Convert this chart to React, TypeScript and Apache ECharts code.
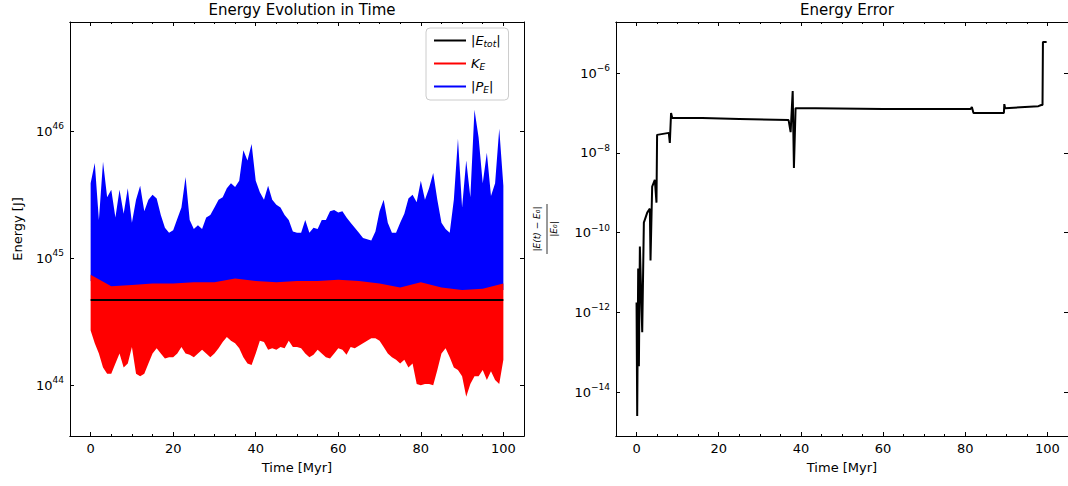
import React, { useEffect, useRef } from 'react'
import * as echarts from 'echarts'

// time grid (Myr) for the envelopes
const envTime = Array.from({ length: 101 }, (_, i) => i)

// log10 of the upper envelope of |P_E|
const blueTopLog = [
  45.59, 45.75, 45.3, 45.76, 45.48, 45.54, 45.32, 45.54, 45.35, 45.55, 45.28, 45.46, 45.57, 45.37, 45.46, 45.5, 45.47,
  45.34, 45.24, 45.2, 45.22, 45.31, 45.4, 45.64, 45.3, 45.23, 45.26, 45.23, 45.32, 45.34, 45.4, 45.46, 45.48, 45.55,
  45.59, 45.56, 45.61, 45.85, 45.77, 45.9, 45.61, 45.52, 45.46, 45.57, 45.46, 45.42, 45.4, 45.34, 45.3, 45.21,
  45.2, 45.2, 45.3, 45.2, 45.24, 45.23, 45.3, 45.3, 45.37, 45.38, 45.36, 45.37, 45.32, 45.28, 45.24, 45.2, 45.16,
  45.15, 45.14, 45.21, 45.37, 45.46, 45.28, 45.2, 45.2, 45.28, 45.35, 45.47, 45.5, 45.44, 45.61, 45.46, 45.55, 45.67,
  45.46, 45.28, 45.23, 45.2, 45.46, 45.94, 45.4, 45.77, 45.48, 46.17, 45.95, 45.59, 45.83, 45.49, 45.59, 46.02, 45.57
]

// log10 of the lower envelope of K_E
const redLowLog = [
  44.43, 44.33, 44.25, 44.14, 44.09, 44.09, 44.17, 44.25, 44.14, 44.17, 44.3, 44.09, 44.07, 44.09, 44.17, 44.25, 44.29,
  44.25, 44.21, 44.22, 44.22, 44.25, 44.3, 44.25, 44.24, 44.22, 44.25, 44.28, 44.25, 44.22, 44.25, 44.29, 44.34, 44.38,
  44.35, 44.33, 44.29, 44.22, 44.17, 44.16, 44.25, 44.35, 44.34, 44.28, 44.29, 44.28, 44.3, 44.29, 44.35, 44.3,
  44.3, 44.29, 44.25, 44.22, 44.24, 44.28, 44.25, 44.22, 44.21, 44.25, 44.29, 44.28, 44.24, 44.3, 44.29, 44.31, 44.33,
  44.35, 44.37, 44.37, 44.35, 44.3, 44.25, 44.22, 44.2, 44.17, 44.2, 44.14, 44.17, 44.01, 44.0, 44.01, 44.01, 44.0,
  44.12, 44.25, 44.29, 44.22, 44.14, 44.12, 44.07, 43.91, 44.01, 44.07, 44.07, 44.12, 44.04, 44.11, 44.04, 44.01, 44.2
]

// log10 of the upper envelope of K_E (also the lower edge of |P_E|)
const redTopTime = [0, 5, 10, 15, 20, 25, 30, 35, 40, 45, 50, 55, 60, 65, 70, 75, 80, 85, 90, 95, 100]
const redTopLog = [
  44.87, 44.78, 44.79, 44.8, 44.8, 44.81, 44.81, 44.84, 44.82, 44.81, 44.82, 44.82, 44.83, 44.82, 44.8, 44.77, 44.81,
  44.77, 44.75, 44.76, 44.8
]

// |E_tot|
const eTotTime = [0, 100]
const eTotLog = [44.67, 44.67]

// energy error, log10
const errTime = [
  0, 0.16, 0.4, 0.57, 0.81, 1.38, 1.78, 2.6, 3.24, 3.4, 3.8, 4.45, 4.85, 5.0, 7.85, 8.1, 8.4, 8.7, 16, 25, 37, 37.5, 38.0,
  38.3, 38.7, 43.6, 60, 81.3, 81.6, 82, 83.3, 89.4, 89.5, 89.7, 97.8, 98.5, 98.8, 98.9, 99.8
]
const errLog = [
  -11.75, -14.6, -10.9, -13.35, -10.35, -12.5, -9.75, -9.5, -9.4, -10.7, -8.85, -8.68, -9.25, -7.55, -7.5, -7.75, -7.0,
  -7.13, -7.13, -7.15, -7.18, -7.48, -6.45, -8.38, -6.88, -6.88, -6.9, -6.9, -6.85, -7.0, -7.0, -7.0, -6.78, -6.88,
  -6.83, -6.8, -6.8, -5.22, -5.22
]

const xMajor = [0, 20, 40, 60, 80, 100]
const xMinor = [-5, 5, 10, 15, 25, 30, 35, 45, 50, 55, 65, 70, 75, 85, 90, 95, 105]
const leftTicks = [44, 45, 46]
const rightTicks = [-14, -12, -10, -8, -6]

const FONT = 'DejaVu Sans'

const powLabel = (v: number) => `{b|10}{s|${v < 0 ? '−' + Math.abs(v) : v}}`
const powRich = {
  b: { fontSize: 13, fontFamily: FONT, color: '#000' },
  s: { fontSize: 9, fontFamily: FONT, color: '#000', padding: [0, 0, 10, 0] }
}

const spine = { show: true, onZero: false, lineStyle: { color: '#000', width: 1 } }

const xAxes = (grid: number) => {
  const base = {
    type: 'value',
    gridIndex: grid,
    min: -5,
    max: 105,
    axisLine: spine,
    splitLine: { show: false },
    offset: 0
  }
  return [
    {
      ...base,
      position: 'bottom',
      name: 'Time [Myr]',
      nameLocation: 'middle',
      nameGap: 25,
      nameTextStyle: { fontFamily: FONT, fontSize: 13, color: '#000' },
      axisTick: { show: true, inside: true, length: 4, customValues: xMajor, lineStyle: { color: '#000' } },
      axisLabel: { customValues: xMajor, fontFamily: FONT, fontSize: 13, color: '#000', margin: 6 }
    },
    { ...base, position: 'top', axisTick: { show: true, inside: true, length: 4, customValues: xMajor, lineStyle: { color: '#000' } }, axisLabel: { show: false } },
    { ...base, position: 'bottom', axisTick: { show: true, inside: true, length: 2, customValues: xMinor, lineStyle: { color: '#000' } }, axisLabel: { show: false } },
    { ...base, position: 'top', axisTick: { show: true, inside: true, length: 2, customValues: xMinor, lineStyle: { color: '#000' } }, axisLabel: { show: false } }
  ]
}

const yAxes = (grid: number, min: number, max: number, ticks: number[], name: string) => {
  const base = {
    type: 'value',
    gridIndex: grid,
    min,
    max,
    axisLine: spine,
    splitLine: { show: false },
    offset: 0,
    axisTick: { show: true, inside: true, length: 4, customValues: ticks, lineStyle: { color: '#000' } }
  }
  return [
    {
      ...base,
      position: 'left',
      name,
      nameLocation: 'middle',
      nameGap: 46,
      nameTextStyle: { fontFamily: FONT, fontSize: 13, color: '#000' },
      axisLabel: { customValues: ticks, formatter: powLabel, rich: powRich, margin: 6 }
    },
    { ...base, position: 'right', axisLabel: { show: false } }
  ]
}

const band = (name: string, color: string, upT: number[], up: number[], loT: number[], lo: number[]) => ({
  type: 'custom',
  name,
  xAxisIndex: 0,
  yAxisIndex: 0,
  data: [0],
  itemStyle: { color },
  renderItem: (_p: any, api: any) => {
    const pts: number[][] = []
    upT.forEach((t, i) => pts.push(api.coord([t, up[i]])))
    for (let i = loT.length - 1; i >= 0; i--) pts.push(api.coord([loT[i], lo[i]]))
    return { type: 'polygon', shape: { points: pts }, style: { fill: color } }
  }
})

const legendNames: Record<string, string> = {
  '|E_tot|': '|{i|E}{sub|tot}|',
  'K_E': '{i|K}{sub|E}',
  '|P_E|': '|{i|P}{sub|E}|'
}

const App: React.FC = () => {
  const chartRef = useRef<HTMLDivElement>(null)

  useEffect(() => {
    if (!chartRef.current) return
    const chart = echarts.init(chartRef.current, null, { renderer: 'svg' })

    const option = {
      animation: false,
      backgroundColor: '#fff',
      textStyle: { fontFamily: FONT },
      title: [
        { text: 'Energy Evolution in Time', left: 297, top: -3, textAlign: 'center', textStyle: { fontFamily: FONT, fontSize: 15, fontWeight: 'normal', color: '#000' } },
        { text: 'Energy Error', left: 842, top: -3, textAlign: 'center', textStyle: { fontFamily: FONT, fontSize: 15, fontWeight: 'normal', color: '#000' } }
      ],
      grid: [
        { left: 70, top: 22, width: 454, height: 414, show: false },
        { left: 616, top: 22, width: 453, height: 414, show: false }
      ],
      xAxis: [...xAxes(0), ...xAxes(1)],
      yAxis: [...yAxes(0, 43.6, 46.86, leftTicks, 'Energy [J]'), ...yAxes(1, -15.1, -4.72, rightTicks, '')],
      legend: {
        left: 426,
        top: 28,
        orient: 'vertical',
        data: ['|E_tot|', 'K_E', '|P_E|'],
        icon: 'rect',
        itemWidth: 32,
        itemHeight: 2,
        itemGap: 9,
        padding: [6, 8, 6, 8],
        borderColor: '#ccc',
        borderWidth: 1,
        borderRadius: 4,
        backgroundColor: 'rgba(255,255,255,0.8)',
        formatter: (n: string) => legendNames[n],
        textStyle: {
          fontFamily: FONT,
          fontSize: 13,
          color: '#000',
          rich: {
            i: { fontFamily: FONT, fontSize: 13, fontStyle: 'italic', color: '#000' },
            sub: { fontFamily: FONT, fontSize: 9, fontStyle: 'italic', color: '#000', padding: [6, 0, 0, 0] }
          }
        }
      },
      series: [
        band('|P_E|', '#0000ff', envTime, blueTopLog, redTopTime, redTopLog.map((v) => v - 0.05)),
        band('K_E', '#ff0000', redTopTime, redTopLog, envTime, redLowLog),
        {
          type: 'line',
          name: '|E_tot|',
          xAxisIndex: 0,
          yAxisIndex: 0,
          showSymbol: false,
          data: eTotTime.map((t, i) => [t, eTotLog[i]]),
          lineStyle: { color: '#000', width: 2 },
          itemStyle: { color: '#000' }
        },
        {
          type: 'line',
          name: 'err',
          xAxisIndex: 4,
          yAxisIndex: 2,
          showSymbol: false,
          data: errTime.map((t, i) => [t, errLog[i]]),
          lineStyle: { color: '#000', width: 2 },
          itemStyle: { color: '#000' }
        }
      ],
      graphic: [
        {
          type: 'group',
          x: 547,
          y: 229,
          rotation: Math.PI / 2,
          children: [
            { type: 'text', x: 0, y: -6, style: { text: '|E(t) − E₀|', font: `italic 9px "${FONT}"`, fill: '#000', align: 'center', verticalAlign: 'bottom' } },
            { type: 'line', shape: { x1: -25, y1: 0, x2: 25, y2: 0 }, style: { stroke: '#000', lineWidth: 0.8 } },
            { type: 'text', x: 0, y: 2, style: { text: '|E₀|', font: `italic 9px "${FONT}"`, fill: '#000', align: 'center', verticalAlign: 'top' } }
          ]
        }
      ]
    }

    chart.setOption(option as any)
    return () => chart.dispose()
  }, [])

  return <div ref={chartRef} style={{ position: 'fixed', left: 0, top: 0, width: 1068, height: 486 }} />
}

export default App
